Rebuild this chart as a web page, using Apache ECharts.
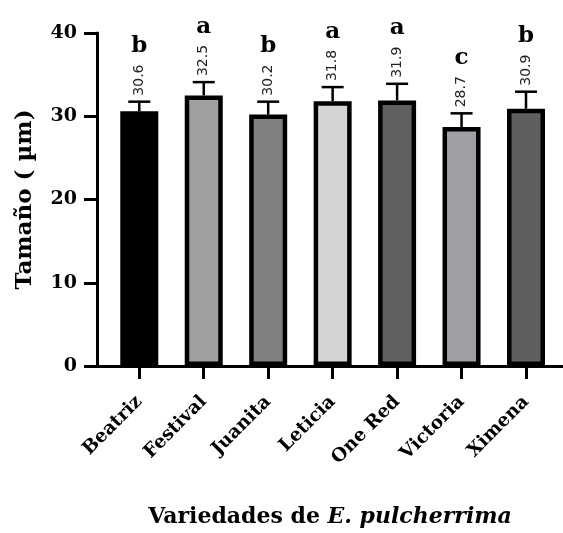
<!DOCTYPE html>
<html>
<head>
<meta charset="utf-8">
<script src="https://cdn.jsdelivr.net/npm/echarts@6/dist/echarts.min.js"></script>
<style>
  html, body { margin: 0; padding: 0; background: #fff; }
  #chart { width: 563px; height: 533px; }
</style>
</head>
<body>
<div id="chart"></div>
<script>
// Stomatal size per poinsettia variety: mean, standard deviation and Tukey group
const varieties = ['Beatriz', 'Festival', 'Juanita', 'Leticia', 'One Red', 'Victoria', 'Ximena'];
const means = [30.6, 32.5, 30.2, 31.8, 31.9, 28.7, 30.9];
const sds = [1.15, 1.6, 1.55, 1.7, 2.0, 1.65, 2.05];
const groups = ['b', 'a', 'b', 'a', 'a', 'c', 'b'];
const barColors = ['#000000', '#a0a0a2', '#808080', '#d4d4d4', '#606060', '#a0a0a4', '#5f5f5f'];
const yTicks = [0, 10, 20, 30, 40];

const SERIF = '"DejaVu Serif", "Liberation Serif", serif';
const positions = varieties.map((_, i) => i);

const chart = echarts.init(document.getElementById('chart'), null, { renderer: 'canvas' });

chart.setOption({
  animation: false,
  backgroundColor: '#ffffff',
  grid: { left: 97, right: 0, top: 33, bottom: 164 },
  xAxis: {
    type: 'value',
    min: -0.656,
    max: 6.574,
    splitLine: { show: false },
    axisLine: { show: true, onZero: false, lineStyle: { color: '#000', width: 3 } },
    axisTick: {
      show: true, inside: false, length: 13, customValues: positions,
      lineStyle: { color: '#000', width: 3 }
    },
    axisLabel: {
      show: true, customValues: positions, rotate: 45, margin: 33,
      fontFamily: SERIF, fontWeight: 'bold', fontSize: 18.5, color: '#000',
      formatter: v => varieties[Math.round(v)]
    },
    name: '{n|Variedades de }{i|E. pulcherrima}',
    nameLocation: 'middle',
    nameGap: 140,
    nameTextStyle: {
      rich: {
        n: { fontFamily: SERIF, fontWeight: 'bold', fontSize: 22, color: '#000' },
        i: { fontFamily: SERIF, fontWeight: 'bold', fontStyle: 'italic', fontSize: 22, color: '#000' }
      }
    }
  },
  yAxis: {
    type: 'value',
    min: yTicks[0],
    max: yTicks[yTicks.length - 1],
    interval: 10,
    splitLine: { show: false },
    axisLine: { show: true, onZero: false, lineStyle: { color: '#000', width: 3 } },
    axisTick: { show: true, inside: false, length: 13, lineStyle: { color: '#000', width: 3 } },
    axisLabel: {
      margin: 20, fontFamily: SERIF, fontWeight: 'bold', fontSize: 19, color: '#000'
    },
    name: 'Tamaño ( µm)',
    nameLocation: 'middle',
    nameGap: 60,
    nameTextStyle: { fontFamily: SERIF, fontWeight: 'bold', fontSize: 23, color: '#000' }
  },
  series: [
    {
      type: 'bar',
      barWidth: 38,
      data: means.map((m, i) => ({
        value: [i, m],
        itemStyle: { color: barColors[i], borderColor: '#000', borderWidth: 4.5 }
      })),
      z: 2
    },
    {
      // upper error bar, value label and significance letter
      type: 'custom',
      z: 3,
      data: means.map((m, i) => [i, m, sds[i]]),
      renderItem: function (params, api) {
        const i = api.value(0);
        const base = api.coord([i, api.value(1)]);
        const cap = api.coord([i, api.value(1) + api.value(2)]);
        const half = 11;
        const labelGap = 6;
        const labelLen = 33;
        return {
          type: 'group',
          children: [
            { type: 'line', shape: { x1: base[0], y1: base[1], x2: cap[0], y2: cap[1] },
              style: { stroke: '#000', lineWidth: 2.5 } },
            { type: 'line', shape: { x1: cap[0] - half, y1: cap[1], x2: cap[0] + half, y2: cap[1] },
              style: { stroke: '#000', lineWidth: 2.5 } },
            { type: 'text', x: cap[0], y: cap[1] - labelGap, rotation: Math.PI / 2,
              style: { text: means[i].toFixed(1), align: 'left', verticalAlign: 'middle',
                       fontFamily: '"DejaVu Sans", sans-serif', fontSize: 14, fill: '#222' } },
            { type: 'text', x: cap[0], y: cap[1] - labelGap - labelLen - 5,
              style: { text: groups[i], align: 'center', verticalAlign: 'bottom',
                       fontFamily: SERIF, fontWeight: 'bold', fontSize: 23, fill: '#000' } }
          ]
        };
      }
    }
  ]
});
</script>
</body>
</html>
